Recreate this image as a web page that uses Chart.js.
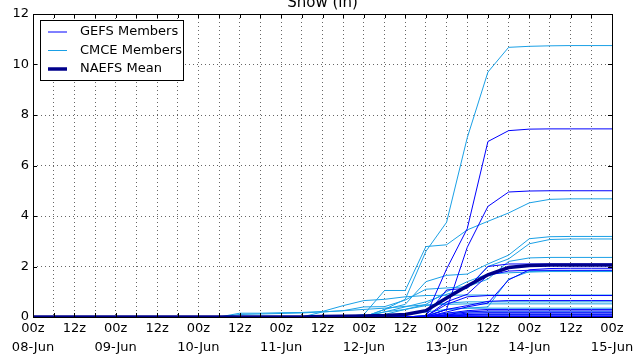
<!DOCTYPE html>
<html><head><meta charset="utf-8">
<script src="https://cdn.jsdelivr.net/npm/chart.js@4"></script>
<style>html,body{margin:0;padding:0;background:#fff}#wrap{width:640px;height:357px}</style>
</head><body><div id="wrap"><canvas id="c" width="640" height="357"></canvas></div>
<script>
const chartTitle = 'Snow (in)';
const legendLabels = ['GEFS Members', 'CMCE Members', 'NAEFS Mean'];
const times = [
 '08-Jun 00z','08-Jun 06z','08-Jun 12z','08-Jun 18z',
 '09-Jun 00z','09-Jun 06z','09-Jun 12z','09-Jun 18z',
 '10-Jun 00z','10-Jun 06z','10-Jun 12z','10-Jun 18z',
 '11-Jun 00z','11-Jun 06z','11-Jun 12z','11-Jun 18z',
 '12-Jun 00z','12-Jun 06z','12-Jun 12z','12-Jun 18z',
 '13-Jun 00z','13-Jun 06z','13-Jun 12z','13-Jun 18z',
 '14-Jun 00z','14-Jun 06z','14-Jun 12z','14-Jun 18z',
 '15-Jun 00z'];
const yTicks = [0, 2, 4, 6, 8, 10, 12];

// GEFS members (in)
const gefs01 = [0,0,0,0,0,0,0,0,0,0,0,0,0,0,0,0,0,0,0,0.05,1.9,3.5,6.95,7.38,7.44,7.45,7.45,7.45,7.45];
const gefs02 = [0,0,0,0,0,0,0,0,0,0,0,0,0,0,0,0,0,0,0,0.02,0.3,2.76,4.38,4.95,4.99,5.0,5.0,5.0,5.0];
const gefs03 = [0,0,0,0,0,0,0,0,0,0,0,0,0,0,0,0,0,0,0,0,0.2,0.4,0.55,1.47,1.87,1.92,1.93,1.93,1.93];
const gefs04 = [0,0,0,0,0,0,0,0,0,0,0,0,0,0,0,0,0,0,0,0.05,1.07,1.14,2.0,2.1,2.1,2.1,2.1,2.1,2.1];
const gefs05 = [0,0,0,0,0,0,0,0,0,0,0,0,0,0,0,0,0,0,0,0.02,0.3,0.45,0.62,0.65,0.65,0.65,0.65,0.65,0.65];
const gefs06 = [0,0,0,0,0,0,0,0,0,0,0,0,0,0,0,0,0,0,0,0.03,0.5,0.8,0.85,0.85,0.85,0.85,0.85,0.85,0.85];
const gefs07 = [0,0,0,0,0,0,0,0,0,0,0,0,0,0,0,0,0,0,0,0.02,0.6,0.9,1.65,1.82,1.85,1.85,1.85,1.85,1.85];
const gefs08 = [0,0,0,0,0,0,0,0,0,0,0,0,0,0,0,0,0,0,0,0.01,0.1,0.2,0.24,0.24,0.24,0.24,0.24,0.24,0.24];
const gefs09 = [0,0,0,0,0,0,0,0,0,0,0,0,0,0,0,0,0,0,0,0,0.08,0.15,0.17,0.17,0.17,0.17,0.17,0.17,0.17];
const gefs10 = [0,0,0,0,0,0,0,0,0,0,0,0,0,0,0,0,0,0,0,0,0.05,0.1,0.12,0.12,0.12,0.12,0.12,0.12,0.12];
const gefs11 = [0,0,0,0,0,0,0,0,0,0,0,0,0,0,0,0,0,0,0,0,0.04,0.07,0.08,0.08,0.08,0.08,0.08,0.08,0.08];
const gefs12 = [0,0,0,0,0,0,0,0,0,0,0,0,0,0,0,0,0,0,0,0,0.02,0.04,0.04,0.04,0.04,0.04,0.04,0.04,0.04];
const gefs13 = [0,0,0,0,0,0,0,0,0,0,0,0,0,0,0,0,0,0,0,0,0.01,0.02,0.02,0.02,0.02,0.02,0.02,0.02,0.02];
const gefs14 = [0,0,0,0,0,0,0,0,0,0,0,0,0,0,0,0,0,0,0,0,0,0,0,0,0,0,0,0,0];
const gefs15 = [0,0,0,0,0,0,0,0,0,0,0,0,0,0,0,0,0,0,0,0.01,0.15,0.25,0.3,0.3,0.3,0.3,0.3,0.3,0.3];

// CMCE members (in)
const cmce01 = [0,0,0,0,0,0,0,0,0,0,0,0,0,0,0,0,0,0.3,0.7,2.6,3.75,7.1,9.7,10.68,10.72,10.74,10.75,10.75,10.75];
const cmce02 = [0,0,0,0,0,0,0,0,0,0,0,0,0,0,0,0,0.1,1.05,1.05,2.79,2.86,3.45,3.79,4.12,4.52,4.66,4.68,4.68,4.68];
const cmce03 = [0,0,0,0,0,0,0,0,0,0,0,0,0,0,0,0,0,0.3,0.5,1.4,1.65,1.7,2.1,2.45,3.1,3.18,3.19,3.19,3.19];
const cmce04 = [0,0,0,0,0,0,0,0,0,0,0,0,0,0,0,0,0,0.2,0.4,0.6,0.9,1.14,2.0,2.3,2.9,3.07,3.09,3.09,3.09];
const cmce05 = [0,0,0,0,0,0,0,0,0,0,0,0,0,0,0.2,0.25,0.4,0.41,0.67,1.1,1.15,1.2,1.5,2.2,2.34,2.36,2.36,2.36,2.36];
const cmce06 = [0,0,0,0,0,0,0,0,0,0,0,0,0,0,0,0,0,0,0,0.05,0.3,0.35,0.4,1.5,1.8,1.83,1.83,1.83,1.83];
const cmce07 = [0,0,0,0,0,0,0,0,0,0,0.15,0.15,0.17,0.18,0.22,0.45,0.65,0.7,0.8,0.85,0.86,0.87,0.87,0.87,0.87,0.87,0.87,0.87,0.87];
const cmce08 = [0,0,0,0,0,0,0,0,0,0,0.1,0.12,0.14,0.16,0.2,0.25,0.3,0.35,0.42,0.48,0.5,0.52,0.52,0.52,0.52,0.52,0.52,0.52,0.52];
const cmce09 = [0,0,0,0,0,0,0,0,0,0,0,0,0,0,0,0,0.05,0.2,0.3,0.5,1.0,1.4,1.7,1.75,1.78,1.8,1.8,1.8,1.8];
const cmce10 = [0,0,0,0,0,0,0,0,0,0,0,0,0,0,0,0,0,0,0.1,0.2,0.3,0.35,0.35,0.35,0.35,0.35,0.35,0.35,0.35];
const cmce11 = [0,0,0,0,0,0,0,0,0,0,0,0,0,0,0,0,0,0.1,0.3,0.45,0.55,0.6,0.6,0.6,0.6,0.6,0.6,0.6,0.6];
const cmce12 = [0,0,0,0,0,0,0,0,0,0,0,0,0,0,0,0,0,0,0,0.05,0.15,0.2,0.2,0.2,0.2,0.2,0.2,0.2,0.2];
const cmce13 = [0,0,0,0,0,0,0,0,0,0,0,0,0,0,0,0,0,0,0,0,0.08,0.1,0.1,0.1,0.1,0.1,0.1,0.1,0.1];

// NAEFS mean (in)
const naefsMean = [0,0,0,0,0,0,0,0,0,0,0,0,0,0,0.02,0.03,0.04,0.06,0.1,0.25,0.75,1.23,1.67,1.96,2.04,2.06,2.06,2.06,2.06];

const gefsMembers = [gefs01,gefs02,gefs03,gefs04,gefs05,gefs06,gefs07,gefs08,gefs09,gefs10,gefs11,gefs12,gefs13,gefs14,gefs15];
const cmceMembers = [cmce01,cmce02,cmce03,cmce04,cmce05,cmce06,cmce07,cmce08,cmce09,cmce10,cmce11,cmce12,cmce13];

const GEFS_COLOR = '#0000ff';
const CMCE_COLOR = '#1aa0e6';
const MEAN_COLOR = '#00008b';
const FONT = 'DejaVu Sans';

const datasets = [];
gefsMembers.forEach((d, k) => datasets.push({label: k === 0 ? legendLabels[0] : '', group: 0, data: d,
  borderColor: GEFS_COLOR, borderWidth: 1, pointRadius: 0, tension: 0, order: 1}));
cmceMembers.forEach((d, k) => datasets.push({label: k === 0 ? legendLabels[1] : '', group: 1, data: d,
  borderColor: CMCE_COLOR, borderWidth: 1, pointRadius: 0, tension: 0, order: 2}));
datasets.push({label: legendLabels[2], group: 2, data: naefsMean, borderColor: MEAN_COLOR, borderWidth: 3.5,
  pointRadius: 0, tension: 0, order: 0});

const framePlugin = {
  id: 'frame',
  afterDatasetsDraw(chart) {
    const {ctx, chartArea: a, scales} = chart;
    ctx.save();
    ctx.strokeStyle = '#000';
    ctx.lineWidth = 1;
    ctx.beginPath();
    const xs = scales.x, ys = scales.y;
    xs.ticks.forEach((t, i) => {
      const x = Math.round(xs.getPixelForTick(i)) + 0.5;
      ctx.moveTo(x, a.bottom); ctx.lineTo(x, a.bottom - 4);
      ctx.moveTo(x, a.top); ctx.lineTo(x, a.top + 4);
    });
    ys.ticks.forEach((t, i) => {
      const y = Math.round(ys.getPixelForTick(i)) + 0.5;
      ctx.moveTo(a.left, y); ctx.lineTo(a.left + 4, y);
      ctx.moveTo(a.right, y); ctx.lineTo(a.right - 4, y);
    });
    ctx.stroke();
    ctx.strokeRect(Math.round(a.left) + 0.5, Math.round(a.top) + 0.5,
      Math.round(a.right - a.left), Math.round(a.bottom - a.top));
    ctx.restore();
  },
  afterDraw(chart) {
    const {ctx, chartArea: a} = chart;
    ctx.save();
    // title
    ctx.fillStyle = '#000';
    ctx.font = '15px "' + FONT + '"';
    ctx.textAlign = 'center';
    ctx.textBaseline = 'alphabetic';
    ctx.fillText(chartTitle, (a.left + a.right) / 2, 7);
    // legend
    const lx = a.left + 7, ly = a.top + 6, lw = 143, lh = 60;
    ctx.fillStyle = '#fff';
    ctx.fillRect(lx, ly, lw, lh);
    ctx.strokeStyle = '#000';
    ctx.lineWidth = 1;
    ctx.strokeRect(lx + 0.5, ly + 0.5, lw, lh);
    const entries = chart.data.datasets.filter(d => d.label);
    entries.sort((p, q) => p.group - q.group);
    ctx.font = '13px "' + FONT + '"';
    ctx.textAlign = 'left';
    ctx.textBaseline = 'middle';
    entries.forEach((d, k) => {
      const y = ly + 12 + k * 18.5;
      ctx.strokeStyle = d.borderColor;
      ctx.lineWidth = d.borderWidth;
      ctx.beginPath();
      ctx.moveTo(lx + 8, y); ctx.lineTo(lx + 27, y);
      ctx.stroke();
      ctx.fillStyle = '#000';
      ctx.fillText(d.label, lx + 40, y);
    });
    ctx.restore();
  }
};

new Chart(document.getElementById('c'), {
  type: 'line',
  data: {labels: times, datasets},
  options: {
    responsive: false, animation: false, devicePixelRatio: 1,
    layout: {padding: {top: 14, right: 28, left: 0, bottom: 0}},
    plugins: {legend: {display: false}, title: {display: false}, tooltip: {enabled: false}},
    scales: {
      x: {
        type: 'category', offset: false,
        grid: {color: 'rgba(0,0,0,0.6)', lineWidth: 1, drawTicks: false},
        border: {display: false, dash: [1, 3]},
        ticks: {
          autoSkip: false, maxRotation: 0, minRotation: 0, padding: 2, color: '#000',
          font: {family: FONT, size: 13, lineHeight: 1.45},
          callback(v) {
            const s = this.getLabelForValue(v).split(' ');
            if (s[1] === '00z') return ['00z', s[0]];
            if (s[1] === '12z') return ['12z', ''];
            return '';
          }
        },
        afterFit(s) { s.height = 40; }
      },
      y: {
        min: 0, max: 12,
        grid: {color: 'rgba(0,0,0,0.6)', lineWidth: 1, drawTicks: false},
        border: {display: false, dash: [1, 3]},
        afterBuildTicks(s) { s.ticks = yTicks.map(v => ({value: v})); },
        ticks: {padding: 4, color: '#000', font: {family: FONT, size: 13}},
        afterFit(s) { s.width = 33; }
      }
    }
  },
  plugins: [framePlugin]
});
</script></body></html>
